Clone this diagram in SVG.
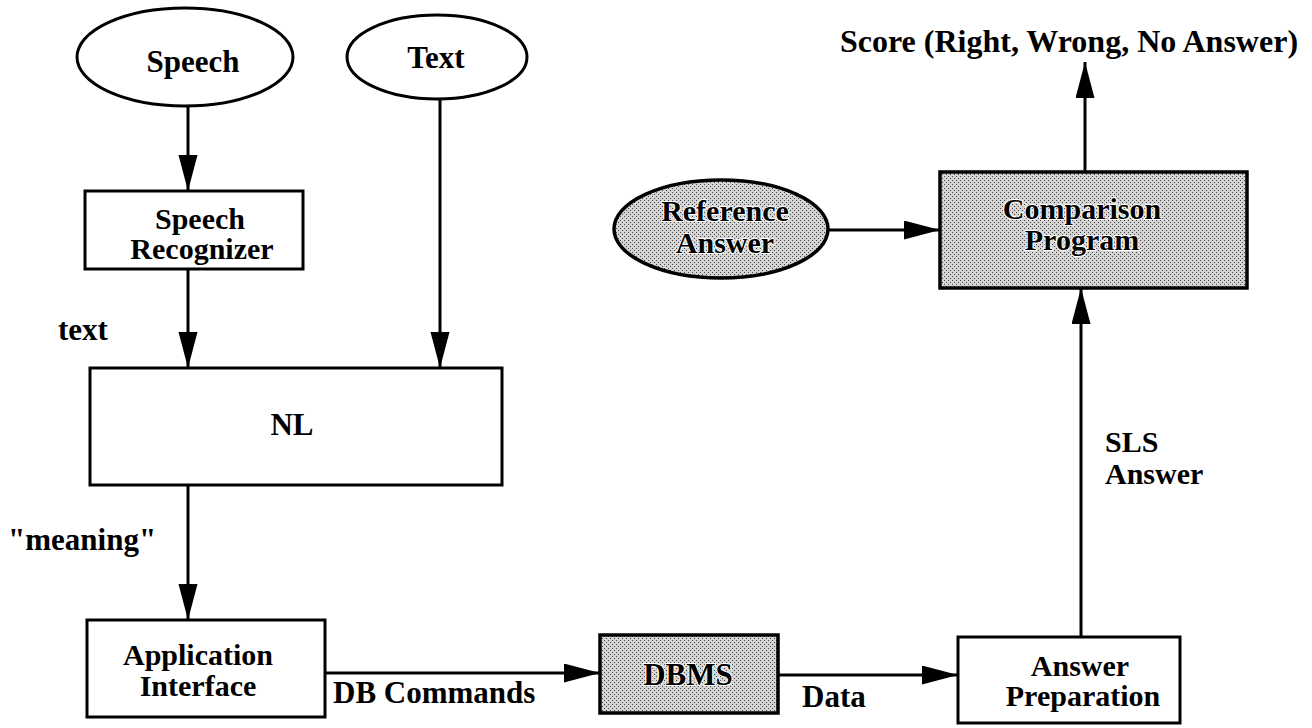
<svg xmlns="http://www.w3.org/2000/svg" width="1312" height="728" viewBox="0 0 1312 728">
<style>
.shape{fill:#fff;stroke:#000;stroke-width:3}
.shaded{fill:url(#stipple);stroke:#000;stroke-width:3.5}
.lbl{font-family:"Liberation Serif","Times New Roman",serif;font-weight:bold;font-size:31px;fill:#000}
.two{font-size:30px}
.mid{text-anchor:middle}
.halo{stroke:#fff;stroke-width:2;paint-order:stroke}
.conn{stroke:#000;stroke-width:3;fill:none;marker-end:url(#arrow)}
</style>
<defs>
<pattern id="stipple" width="4" height="4" patternUnits="userSpaceOnUse">
<rect width="4" height="4" fill="#d4d4d4"/>
<rect x="0" y="0" width="1" height="1" fill="#444"/>
<rect x="2" y="2" width="1" height="1" fill="#444"/>
</pattern>
<marker id="arrow" markerUnits="userSpaceOnUse" markerWidth="38" markerHeight="20" refX="36" refY="9.5" orient="auto" viewBox="0 0 38 20">
<path d="M0,0 L36,9.5 L0,19 Z" fill="#000"/>
</marker>
</defs>
<rect width="1312" height="728" fill="#fff"/>

<g id="connectors">
<line class="conn" x1="188" y1="106" x2="188" y2="191"/>
<line class="conn" x1="188" y1="269" x2="188" y2="368"/>
<line class="conn" x1="440" y1="98" x2="440" y2="368"/>
<line class="conn" x1="188" y1="485" x2="188" y2="620"/>
<line class="conn" x1="325" y1="673" x2="600" y2="673"/>
<line class="conn" x1="778" y1="675" x2="958" y2="675"/>
<line class="conn" x1="1081" y1="637" x2="1081" y2="288"/>
<line class="conn" x1="828" y1="230" x2="940" y2="230"/>
<line class="conn" x1="1085" y1="172" x2="1085" y2="62"/>
</g>

<g id="speech">
<ellipse class="shape" cx="185" cy="57" rx="108" ry="49"/>
<text class="lbl mid" x="193" y="72">Speech</text>
</g>

<g id="text-input">
<ellipse class="shape" cx="437" cy="57" rx="90" ry="42"/>
<text class="lbl mid" x="436" y="68">Text</text>
</g>

<g id="speech-recognizer">
<rect class="shape" x="85" y="191" width="218" height="78"/>
<text class="lbl two mid" x="200" y="229">Speech</text>
<text class="lbl two mid" x="202" y="259">Recognizer</text>
</g>

<g id="nl">
<rect class="shape" x="90" y="368" width="412" height="117"/>
<text class="lbl mid" x="292" y="435">NL</text>
</g>

<g id="application-interface">
<rect class="shape" x="87" y="620" width="238" height="97"/>
<text class="lbl two mid" x="198" y="665">Application</text>
<text class="lbl two mid" x="198" y="696">Interface</text>
</g>

<g id="dbms">
<rect class="shaded" x="600" y="635" width="178" height="78"/>
<text class="lbl mid halo" x="688" y="685">DBMS</text>
</g>

<g id="answer-preparation">
<rect class="shape" x="958" y="637" width="222" height="86"/>
<text class="lbl two mid" x="1080" y="676">Answer</text>
<text class="lbl two mid" x="1083" y="706">Preparation</text>
</g>

<g id="comparison-program">
<rect class="shaded" x="940" y="172" width="307" height="116"/>
<text class="lbl two mid halo" x="1082" y="219">Comparison</text>
<text class="lbl two mid halo" x="1082" y="250">Program</text>
</g>

<g id="reference-answer">
<ellipse class="shaded" cx="721" cy="229" rx="107" ry="49"/>
<text class="lbl two mid halo" x="725" y="221">Reference</text>
<text class="lbl two mid halo" x="725" y="253">Answer</text>
</g>

<g id="labels">
<text class="lbl mid" x="1069" y="52" style="font-size:32px">Score (Right, Wrong, No Answer)</text>
<text class="lbl" x="58" y="340">text</text>
<text class="lbl" x="8" y="550">"meaning"</text>
<text class="lbl" x="333" y="703">DB Commands</text>
<text class="lbl" x="802" y="707">Data</text>
<text class="lbl two" x="1105" y="452">SLS</text>
<text class="lbl two" x="1105" y="484">Answer</text>
</g>
</svg>
